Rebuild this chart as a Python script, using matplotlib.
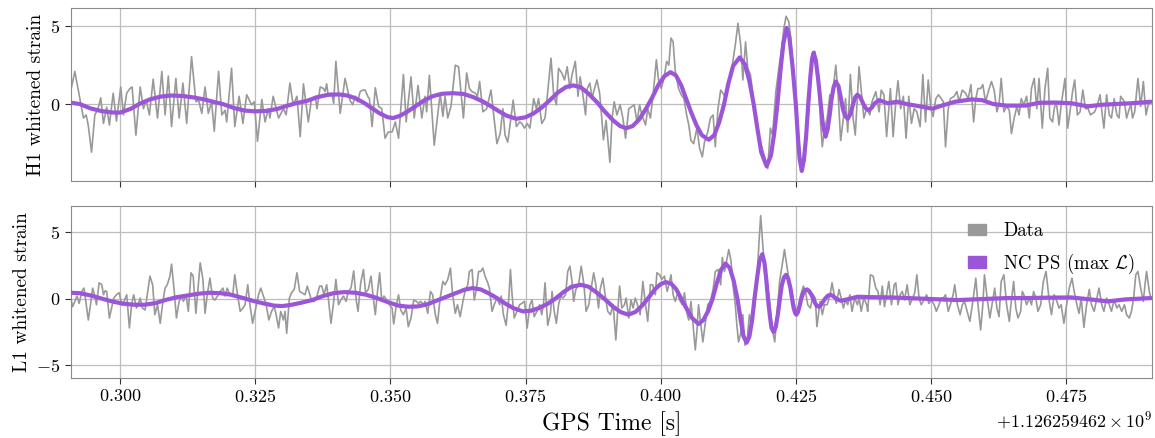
import numpy as np
import matplotlib.pyplot as plt
from matplotlib.patches import Patch
from matplotlib.ticker import MultipleLocator

plt.rcParams.update({
    'font.family': 'serif',
    'font.serif': ['cmr10'],
    'mathtext.fontset': 'cm',
    'axes.formatter.use_mathtext': True,
})

# GPS reference; every *_ms list below counts milliseconds after gps_start + t_ref
gps_start = 1126259462
t_ref = 0.290

# ---- H1 whitened data ----
h1_data_ms = [
    0.7, 1.6, 2.5, 3.2, 3.7, 4.1, 4.7, 5.3, 5.9, 6.4,
    6.9, 7.5, 8.0, 8.7, 9.3, 10.1, 10.6, 11.2, 11.8, 12.2,
    12.9, 13.7, 14.3, 14.8, 15.4, 16.1, 16.9, 17.7, 18.3, 18.9,
    19.5, 20.3, 20.9, 21.6, 22.3, 23.2, 24.0, 24.5, 25.1, 25.7,
    26.3, 26.9, 27.4, 28.2, 28.8, 29.4, 29.7, 30.6, 31.2, 32.0,
    32.7, 33.4, 34.3, 34.8, 35.4, 36.2, 36.8, 37.4, 37.7, 38.3,
    39.3, 40.2, 40.7, 41.4, 42.0, 42.7, 43.3, 43.9, 44.8, 45.4,
    46.1, 46.4, 47.0, 47.6, 47.9, 48.2, 48.5, 49.1, 49.5, 49.9,
    50.7, 51.6, 52.5, 53.0, 53.5, 53.9, 54.4, 54.9, 55.3, 55.8,
    56.1, 56.6, 57.2, 57.8, 58.4, 59.0, 59.6, 60.3, 60.9, 61.5,
    62.4, 62.9, 63.8, 64.4, 65.1, 65.8, 66.4, 66.7, 67.2,
    68.1, 69.2, 69.7, 70.1, 70.6, 71.2, 72.0, 72.6, 73.5, 74.1,
    74.6, 75.1, 75.7, 76.1, 76.5, 77.1, 77.8, 78.6, 79.1, 79.7,
    80.3, 80.8, 81.2, 81.7, 82.2, 82.7, 83.3, 83.9, 84.3, 84.8,
    85.3, 85.8, 86.5, 87.0, 87.4, 88.0, 88.6, 89.1, 89.7, 90.2,
    90.7, 91.1, 91.7, 92.2, 92.7, 93.2, 93.6, 94.2, 94.7, 95.1,
    95.6, 96.1, 96.4, 96.9, 97.3, 97.6, 98.2, 98.7, 99.1, 99.4,
    99.9, 100.6, 101.0, 101.4, 101.9, 102.5, 103.0, 103.5, 104.1, 104.7,
    105.1, 105.6, 106.1, 106.5, 107.2, 107.6, 108.1, 108.6, 109.2, 109.6,
    110.1, 110.6, 111.1, 111.5, 111.9, 112.3, 112.7, 113.3, 113.8, 114.3,
    114.8, 115.2, 115.6, 116.1, 116.7, 117.2, 117.7, 118.1, 118.7, 119.2,
    119.7, 120.1, 120.6, 121.1, 121.7, 122.0, 122.6, 123.2, 123.8, 124.3,
    124.8, 125.2, 125.7, 126.1, 126.6, 127.0, 127.5, 128.2, 128.8, 129.3,
    129.8, 130.3, 130.7, 131.3, 131.9, 132.3, 132.8, 133.2, 133.7,
    134.0, 134.6, 135.3, 136.1, 136.8, 137.4, 138.0, 138.5, 139.1, 139.6,
    139.9, 140.3, 140.8, 141.3, 141.7, 142.4, 142.8, 143.3, 143.8, 144.2,
    144.6, 145.1, 145.6, 146.0, 146.7, 147.2, 147.6, 148.1, 148.7, 149.1,
    149.8, 150.4, 150.8, 151.3, 151.8, 152.2, 152.5, 153.0, 153.5, 153.9,
    154.4, 154.9, 155.4, 155.9, 156.4, 156.9, 157.4, 158.0, 158.5, 159.0,
    159.5, 160.0, 160.4, 160.9, 161.4, 161.9, 162.3, 162.7, 163.2, 163.6,
    164.3, 164.8, 165.2, 165.8, 166.4, 166.9, 167.4, 167.9, 168.3, 168.7,
    169.2, 169.6, 170.1, 170.7, 171.2, 171.7, 172.2, 172.6, 173.0, 173.5,
    174.0, 174.5, 174.9, 175.4, 175.9, 176.3, 176.7, 177.2, 177.7, 178.2,
    178.6, 179.1, 179.6, 180.0, 180.6, 181.1, 181.6, 182.0, 182.5, 182.8,
    183.2, 183.7, 184.1, 184.8, 185.3, 185.8, 186.2, 186.6, 187.1, 187.6,
    188.1, 188.6, 189.1, 189.5, 189.9, 190.3, 190.8, 191.3, 191.7, 192.0,
    192.5, 193.0, 193.4, 193.9, 194.4, 194.8, 195.1, 195.8, 196.2, 196.7,
    197.0, 197.3, 197.7, 198.3, 198.8, 199.3, 199.8, 200.2, 200.7,
]
h1_data = [
    0.6, 2.1, 0.4, -0.9, -0.7, -1.4, -3.1, -0.7, -0.3, 0.4,
    -1.25, -0.2, -1.35, 0.7, -1.1, 1.1, -0.7, 0.7, 1.0, 1.1,
    -2.0, 1.1, -0.3, 0.25, -0.7, 1.6, -0.9, 2.1, -0.7, 1.8,
    -1.45, 1.65, -0.9, 1.35, -1.25, 3.05, 0.15, 0.25, -0.6, 1.1,
    -0.6, 0.15, -1.75, 2.1, -0.7, -0.4, -1.15, 2.3, -1.45, 0.5,
    -1.25, 0.6, -0.05, 0.15, -2.4, 0.3, -1.15, -0.3, -0.9, 0.5,
    -0.9, -0.3, -0.7, 1.35, -0.05, 0.5, -2.1, 1.3, -1.15, 0.35,
    0.5, -0.3, 1.1, 1.0, 0.8, 1.3, 0.5, 0.7, 0.05, 2.75,
    -0.6, 1.65, 0.25, -0.05, 0.5, 0.15, 0.8, 0.9, 0.9, 0.5,
    0.35, -1.45, 1.05, -0.15, -0.3, -2.2, -1.8, -1.8, -1.15, -2.2,
    1.9, -1.15, 1.75, -0.9, 1.2, -0.9, 0.5, -0.5, 1.85,
    -2.65, 0.7, -0.8, 0.5, -0.9, -0.15, 2.5, 2.4, -0.9, 2.0,
    1.0, 0.8, 0.7, 0.5, 1.45, -0.5, -0.3, 0.9, -0.7, -2.55,
    -1.9, -0.3, -2.0, -2.45, -1.15, 0.25, -1.45, -1.15, -1.25, -1.55,
    -1.25, -1.55, 0.35, -0.3, 0.35, -1.25, -0.9, 0.8, 2.95, 0.6,
    -0.05, 2.3, 2.0, 1.55, 2.4, 1.0, 1.9, 2.75, 0.5, 1.75,
    0.6, -0.7, 1.0, 1.35, 0.35, 0.8, 1.55, 0.7, -0.9, -2.3,
    -1.05, -3.75, -0.9, 0.15, -0.7, -0.05, -0.9, -2.2, -0.3, -0.15,
    -0.05, -1.15, -0.05, -0.7, -1.35, -0.3, -0.9, 0.6, 2.85, 1.55,
    1.0, 1.65, 2.75, 2.5, 4.25, 4.0, 2.1, 1.0, 0.6, 0.35,
    -0.7, -1.35, -2.35, -2.55, -1.55, -2.85, -3.4, -2.45, -1.8, -0.9,
    -0.7, -2.75, -0.3, 0.9, 0.6, 0.35, 1.2, 2.4, 3.8, 5.2,
    3.8, 1.55, 4.0, 2.3, 1.9, 0.8, -0.7, -2.2, -2.85, -3.5,
    -4.15, -1.55, -2.0, 0.8, 2.4, 3.4, 4.9, 5.65, 5.3,
    4.45, 1.9, -2.0, -4.4, -2.85, -0.3, 2.75, 3.4, 1.9, -1.35,
    -2.75, -1.55, -0.9, 0.6, 0.35, 2.5, 0.8, -2.35, -0.9, 0.35,
    -1.8, 1.9, -0.9, -2.0, 2.4, 0.5, -0.9, -0.3, -0.7, 0.15,
    0.8, -0.5, 0.9, 0.6, -2.1, -0.3, 1.0, -2.1, 0.15, 1.5,
    -0.3, 0.5, -2.2, 0.5, -1.25, -0.3, -0.5, -1.45, 1.9, -1.15,
    1.55, -0.3, -0.8, 0.35, 0.6, 0.35, 0.15, -2.75, -0.3, 0.35,
    0.5, 0.8, 0.15, 0.9, 0.7, 0.35, 1.25, -1.15, 0.35, 1.0,
    1.0, 1.25, 0.15, 0.9, 1.45, 0.9, -0.5, -0.05, 1.65, -0.5,
    -0.15, -0.4, -1.9, -0.9, -0.15, -0.7, 0.35, -0.05, 0.5, -0.9,
    1.0, 1.65, -0.3, 1.65, -1.55, 1.0, 2.3, -0.9, -1.15, -0.3,
    0.15, -1.35, -0.05, 1.65, -1.55, -0.3, 0.8, 1.55, -0.7, -0.5,
    0.9, -0.3, -0.3, -0.7, -0.6, -0.5, -0.05, 0.6, -0.7, -1.55,
    0.6, -0.7, -0.9, 0.35, -0.7, -0.9, 0.5, 0.15, -0.9, -0.3,
    -0.05, -0.9, -0.5, 1.65, -0.15, 1.45, -0.7, -0.05, 0.15,
]

# ---- H1 max-likelihood waveform ----
h1_model_ms = [
    0.7, 2.5, 4.5, 6.5, 8.5, 10.0, 12.0, 13.5, 15.5, 17.5,
    19.5, 21.5, 23.5, 25.5, 27.5, 29.0, 31.0, 33.0, 35.0, 37.0,
    39.0, 40.8, 42.5, 44.5, 46.5, 48.5, 50.5, 52.0, 53.5, 55.0,
    56.5, 58.0, 59.5, 60.5, 61.8, 63.3, 64.8, 66.3, 67.8, 69.5,
    71.5, 73.5, 75.3, 77.0, 78.5, 80.0, 81.5, 83.3, 85.0, 86.5,
    88.0, 89.5, 91.0, 92.5, 93.8, 95.2, 96.7, 98.2, 99.7, 101.2,
    102.5, 103.6, 104.8, 106.0, 107.2, 108.4, 109.6, 110.7, 111.8, 112.8,
    113.8, 114.7, 115.6, 116.6, 117.6, 118.9, 119.9, 120.8, 121.7, 122.5,
    123.4, 124.6, 125.6, 126.4, 127.2, 127.9, 128.6, 129.6, 130.4, 131.0,
    131.6, 132.2, 132.7, 133.3, 133.8, 134.4, 135.0, 135.4, 135.7, 136.1,
    136.5, 136.9, 137.3, 137.7, 138.0, 138.3, 138.7, 139.1, 139.6, 140.0,
    140.5, 140.9, 141.3, 141.6, 142.0, 142.4, 142.9, 143.3, 143.7, 144.1,
    144.6, 145.1, 145.6, 146.0, 146.4, 146.9, 147.5, 148.0, 148.5, 149.0,
    149.6, 150.4, 151.2, 152.0, 153.8, 155.5, 158.0, 160.3, 162.0, 164.5,
    167.5, 169.5, 171.5, 174.0, 177.5, 180.0, 183.0, 186.0, 189.0, 191.5,
    194.0, 197.0, 200.7,
]
h1_model = [
    0.1, 0.0, -0.28, -0.45, -0.54, -0.55, -0.3, 0.0, 0.3, 0.48,
    0.55, 0.52, 0.43, 0.3, 0.12, 0.0, -0.25, -0.42, -0.47, -0.44,
    -0.32, -0.12, 0.05, 0.2, 0.45, 0.6, 0.62, 0.55, 0.38, 0.1,
    -0.25, -0.6, -0.85, -0.9, -0.75, -0.45, -0.1, 0.25, 0.5, 0.66,
    0.7, 0.65, 0.45, 0.18, -0.12, -0.45, -0.75, -0.95, -0.85, -0.6,
    -0.22, 0.25, 0.75, 1.1, 1.2, 1.08, 0.65, 0.12, -0.5, -1.05,
    -1.42, -1.55, -1.42, -1.0, -0.35, 0.4, 1.25, 1.8, 2.05, 1.85,
    1.2, 0.35, -0.5, -1.35, -2.0, -2.3, -2.0, -1.2, -0.05, 1.3,
    2.45, 3.0, 2.55, 1.5, 0.0, -1.6, -3.1, -4.0, -3.3, -1.9,
    0.0, 2.3, 3.9, 4.9, 4.3, 2.4, 0.0, -2.2, -3.5, -4.3,
    -3.6, -2.1, 0.0, 1.8, 2.9, 3.3, 2.8, 1.7, 0.0, -1.3,
    -2.1, -1.6, -0.6, 0.3, 1.1, 1.45, 1.15, 0.45, -0.3, -0.75,
    -0.95, -0.65, 0.0, 0.45, 0.6, 0.45, 0.0, -0.3, -0.4, -0.25,
    0.05, 0.25, 0.15, 0.05, 0.15, 0.0, -0.15, -0.3, -0.1, 0.15,
    0.3, 0.25, 0.0, -0.1, -0.1, 0.08, 0.1, 0.05, -0.15, -0.05,
    0.0, 0.05, 0.15,
]

# ---- L1 whitened data ----
l1_data_ms = [
    0.7, 1.2, 1.6, 2.0, 2.4, 2.9, 3.3, 3.8, 4.1, 4.5,
    4.9, 5.3, 5.6, 6.1, 6.6, 6.9, 7.2, 7.5, 8.0, 8.4,
    8.8, 9.3, 9.8, 10.3, 10.7, 11.2, 11.7, 12.1, 12.5, 13.0,
    13.3, 13.7, 14.1, 14.6, 15.0, 15.5, 16.0, 16.4, 16.9, 17.4,
    17.9, 18.3, 18.7, 19.2, 19.5, 20.0, 20.4, 20.9, 21.4, 21.7,
    22.2, 22.6, 23.1, 23.5, 24.0, 24.8, 25.3, 25.7, 26.1, 26.6,
    27.1, 27.5, 28.0, 28.5, 29.0, 29.4, 29.8, 30.3, 30.8, 31.2,
    31.7, 32.2, 32.7, 33.1, 33.6, 34.0, 34.5, 35.0, 35.6, 36.0,
    36.5, 37.0, 37.5, 38.0, 38.5, 38.8, 39.3, 39.7, 40.2, 40.5,
    40.8, 41.3, 41.7, 42.2, 42.7, 43.2, 43.6, 44.2, 44.6, 45.1,
    45.4, 45.9, 46.4, 46.9, 47.3, 47.7, 48.2, 48.5, 49.0, 49.5,
    49.9, 50.4, 50.8, 51.3, 51.8, 52.2, 52.7, 53.2, 53.7, 54.0,
    54.5, 55.0, 55.4, 55.9, 56.4, 56.9, 57.2, 57.6, 58.0, 58.4,
    58.8, 59.3, 59.8, 60.3, 60.6, 61.1, 61.5, 61.9, 62.4, 62.9,
    63.3, 63.8, 64.3, 64.8, 65.2, 65.6, 66.1, 66.4, 66.9, 67.4,
    67.8, 68.3, 68.7, 69.2, 69.7, 70.1, 70.6, 71.1, 71.5, 72.0,
    72.4, 72.9, 73.4, 73.8, 74.3, 74.6, 75.1, 75.5, 75.9, 76.3,
    76.7, 77.1, 77.5, 78.0, 78.3, 78.8, 79.2, 79.7, 80.2, 80.5,
    80.9, 81.4, 81.9, 82.2, 82.5, 82.9, 83.4, 83.9, 84.3, 84.8,
    85.3, 85.8, 86.2, 86.6, 87.1, 87.6, 88.0, 88.3, 88.6, 89.1,
    89.6, 89.9, 90.3, 90.7, 91.1, 91.5, 91.9, 92.4, 92.8, 93.2,
    93.6, 93.9, 94.3, 94.8, 95.3, 95.8, 96.2, 96.7, 97.1, 97.6,
    98.0, 98.5, 98.8, 99.3, 99.8, 100.2, 100.7, 101.2, 101.7, 102.0,
    102.4, 102.8, 103.3, 103.6, 104.1, 104.5, 104.9, 105.3, 105.7, 106.2,
    106.7, 107.2, 107.6, 108.1, 108.5, 109.0, 109.3, 109.8, 110.2, 110.7,
    111.2, 111.5, 111.9, 112.3, 112.7, 113.2, 113.5, 114.0, 114.4, 114.9,
    115.2, 115.6, 116.0, 116.4, 116.7, 117.0, 117.5, 117.8, 118.3, 118.7,
    119.2, 119.7, 120.1, 120.6, 121.1, 121.4, 121.8, 122.2, 122.6, 123.0,
    123.4, 123.8, 124.1, 124.4, 124.8, 125.2, 125.6, 126.0, 126.4, 126.8,
    127.2, 127.7, 128.2, 128.5, 128.8, 129.2, 129.7, 130.2, 130.6, 131.1,
    131.5, 132.0, 132.5, 132.9, 133.4, 133.8,
    134.0, 134.6, 135.1, 135.6, 135.9, 136.4, 136.8, 137.2, 137.7, 138.2,
    138.6, 138.9, 139.5, 139.9, 140.3, 140.8, 141.3, 141.7, 142.2, 142.5,
    143.0, 143.3, 143.8, 144.2, 144.6, 145.0, 145.4, 145.9, 146.4, 146.7,
    147.1, 147.6, 148.1, 148.3, 148.8, 149.3, 149.8, 150.2, 150.6, 151.0,
    151.4, 151.9, 152.2, 152.7, 153.2, 153.5, 153.9, 154.3, 154.7, 155.1,
    155.6, 156.1, 156.6, 157.0, 157.4, 157.8, 158.2, 158.7, 159.2, 159.6,
    160.1, 160.6, 161.0, 161.5, 161.9, 162.3, 162.7, 163.2, 163.6, 164.1,
    164.4, 164.9, 165.4, 165.8, 166.2, 166.7, 167.2, 167.7, 168.0, 168.3,
    168.7, 169.2, 169.6, 169.9, 170.4, 170.9, 171.4, 171.8, 172.2, 172.6,
    173.0, 173.5, 174.0, 174.5, 174.8, 175.3, 175.7, 176.1, 176.6, 176.9,
    177.2, 177.7, 178.2, 178.6, 179.0, 179.4, 179.8, 180.3, 180.8, 181.3,
    181.9, 182.3, 182.8, 183.3, 183.7, 184.1, 184.6, 185.1, 185.6, 186.1,
    186.5, 187.0, 187.4, 187.8, 188.3, 188.8, 189.3, 189.7, 190.2, 190.7,
    191.1, 191.6, 192.0, 192.5, 193.0, 193.4, 193.9, 194.4, 194.8, 195.3,
    195.8, 196.2, 196.7, 197.1, 197.5, 197.9, 198.3, 198.8, 199.3, 199.6,
    199.9, 200.4, 200.7,
]
l1_data = [
    0.3, -0.6, -0.2, 0.2, -0.35, 0.55, 0.8, -0.7, -1.6, -0.45,
    0.8, 0.2, -0.45, 1.2, 1.05, 0.3, 0.6, 0.55, -1.45, -0.7,
    0.05, 0.3, 0.45, -0.45, -0.2, 0.3, -2.2, -0.45, 0.3, -0.7,
    -0.45, 0.05, -0.7, -0.85, 0.3, 1.7, 1.05, -1.2, -0.45, -1.85,
    -0.2, 0.8, 1.05, 1.7, 2.6, 0.55, -1.45, -0.2, 0.2, -0.2,
    0.3, -0.95, 1.95, 1.7, -1.1, 2.7, 1.45, -1.1, 0.3, 1.55,
    0.05, -0.1, 0.2, 0.55, 0.8, 0.2, 0.8, 0.3, 0.2, 1.8,
    0.3, -0.95, -0.7, -0.45, 1.05, -0.45, -1.85, -0.85, 0.3, 0.8,
    0.2, -0.45, -1.6, -0.95, -0.6, -1.1, -2.2, -0.95, -1.6, -0.95,
    -2.6, 0.05, 0.45, 0.7, 1.95, 0.55, 0.45, 0.3, 0.95, 0.3,
    -0.2, -0.2, 0.2, 0.95, 0.95, 0.3, 1.05, 0.05, -1.85, -0.2,
    1.45, -0.45, -0.1, 0.2, -0.2, 0.55, 0.8, 2.1, -0.2, -0.95,
    1.2, 2.2, 0.45, 0.7, 1.7, -0.2, -1.2, 0.55, 1.95, -0.2,
    0.2, -0.1, -0.45, -0.7, -1.9, -0.45, 0.3, -0.85, -1.2, -0.7,
    -2.1, -1.45, -0.1, -0.2, -0.35, -0.2, -0.45, -0.2, -1.1, 0.55,
    0.3, -1.2, -1.85, 0.05, 1.3, 1.05, 1.45, 2.3, 0.3, -1.1,
    -0.45, -1.35, -0.2, 0.55, 1.05, 2.05, 2.2, -0.1, 0.7, 2.05,
    2.05, 2.3, 1.7, 1.2, 0.8, -0.95, -0.45, 0.05, -0.45, 0.2,
    -1.2, -2.0, 0.05, 2.2, 0.3, -1.45, -0.95, -0.45, -0.35, -0.2,
    -2.2, -0.45, -0.1, -1.35, -0.95, -0.45, -1.2, -0.45, 1.2, -2.0,
    -1.1, 0.55, -0.95, -1.85, -0.45, 0.2, 0.05, 0.3, 2.05, 2.45,
    1.3, -0.2, 0.7, 1.05, 2.45, 1.05, -0.95, -0.45, 0.7, 1.95,
    1.05, -0.7, 0.7, 1.55, 0.05, -0.95, -1.2, -0.45, -3.1, -1.2,
    0.95, -0.7, -0.45, 0.05, -1.45, -0.1, -0.7, 0.05, -0.45, -1.2,
    1.3, -0.45, -1.7, 1.05, 1.05, 0.3, 1.95, 1.8, 1.45, 1.7,
    0.55, 1.05, 1.8, 0.3, -0.2, 0.55, -0.1, -0.45, 0.45, -1.2,
    -1.6, -0.2, -2.0, -3.85, -2.45, -0.45, -2.2, -3.25, -1.7, -0.45,
    -0.2, 0.7, 2.05, 2.2, 1.05, 3.1, 2.05, 2.85, 3.7, 2.85,
    0.95, -0.45, -2.0, -3.25, -2.6, -1.2, -3.5, -3.1, -1.2, -2.0,
    -0.95, 0.55, 4.35, 6.25, 4.6, 2.3, 1.3, -0.45, -2.2, -3.25,
    -1.2, 1.3, 2.6, 3.7, 2.3, 1.3,
    1.05, -0.2, -1.2, -0.45, 0.3, 0.95, 0.55, -0.45, -0.7, 0.3,
    0.05, -2.1, -0.2, -1.2, -0.45, -0.45, 0.2, 1.2, 0.05, -0.35,
    0.7, 0.2, -0.7, -0.1, -0.45, 0.3, -0.95, 0.05, -0.45, 0.05,
    -0.95, 0.05, -0.45, -0.95, 1.8, 1.7, 0.8, 0.55, -0.45, 0.95,
    -0.6, 0.55, 1.3, -0.45, 1.05, 1.2, -0.45, 0.3, 0.55, -0.1,
    1.05, -0.45, 0.05, 0.45, 1.8, 0.05, -0.45, -0.1, 0.3, -0.35,
    -0.1, -0.45, -0.95, -0.45, 0.05, 0.05, 0.3, -0.95, -0.45, 0.3,
    1.05, -0.45, -1.2, -0.45, -0.2, -0.95, -1.7, -0.35, 0.55, 1.55,
    -0.45, -2.35, -0.45, 1.8, 0.05, -1.45, -0.2, 0.8, -0.7, -1.35,
    1.3, 1.8, -0.45, -1.7, -0.45, 1.3, -0.7, -1.45, -0.95, 0.55,
    0.3, -0.45, 0.05, -0.45, 0.55, 0.05, -0.95, -0.45, 1.3, 2.05,
    -0.2, -1.2, 0.3, -0.2, -0.7, -0.45, -1.85, -0.45, 0.8, 1.55,
    0.55, -0.45, -1.1, 0.05, -2.15, -0.45, 0.7, -0.45, -0.95, 0.05,
    0.8, -0.45, -0.95, 0.05, -0.45, -0.95, -0.1, -0.7, -0.45, -0.95,
    -0.45, -1.2, -1.45, -0.95, 0.05, 1.8, 2.05, 0.8, -0.2, 1.05,
    2.05, 0.55, 0.05,
]

# ---- L1 max-likelihood waveform ----
l1_model_ms = [
    0.7, 2.5, 4.5, 6.5, 8.5, 10.5, 12.5, 14.5, 16.5, 18.5,
    20.5, 22.5, 24.5, 26.5, 28.5, 30.5, 32.5, 34.5, 36.5, 38.5,
    40.0, 41.5, 43.5, 45.5, 47.5, 49.5, 51.5, 53.5, 55.5, 57.5,
    59.5, 61.5, 63.3, 65.0, 66.8, 68.5, 70.2, 72.0, 73.7, 75.2,
    76.7, 78.2, 79.7, 81.2, 82.7, 84.5, 86.0, 87.5, 89.0, 90.5,
    92.0, 93.5, 95.2, 96.7, 98.2, 99.7, 101.2, 102.6, 104.0, 105.3,
    106.5, 107.7, 108.9, 110.0, 110.9, 111.9, 112.9, 113.8, 114.8, 115.8,
    117.0, 117.9, 118.8, 119.6, 120.4, 121.2, 122.0, 122.8, 123.5, 124.2,
    124.8, 125.3, 125.9, 126.4, 126.9, 127.35, 127.9, 128.3, 128.8, 129.2,
    129.5, 129.85, 130.2, 130.5, 130.9, 131.3, 131.7, 132.05, 132.4, 132.8,
    133.2, 133.6, 134.0, 134.3, 134.6, 134.9, 135.1, 135.4, 135.7, 136.0,
    136.4, 136.7, 137.1, 137.5, 137.9, 138.2, 138.6, 138.9, 139.3, 139.7,
    140.0, 140.4, 140.9, 141.4, 141.9, 142.5, 143.3, 144.5, 146.4, 149.0,
    152.5, 155.5, 158.7, 162.0, 164.9, 168.0, 171.1, 174.0, 177.2, 181.5,
    185.9, 189.5, 192.7, 196.0, 200.7,
]
l1_model = [
    0.45, 0.42, 0.25, 0.02, -0.2, -0.37, -0.45, -0.45, -0.33, -0.08,
    0.12, 0.25, 0.38, 0.45, 0.42, 0.3, 0.08, -0.15, -0.35, -0.52,
    -0.55, -0.47, -0.3, -0.1, 0.2, 0.42, 0.5, 0.45, 0.3, 0.05,
    -0.25, -0.52, -0.6, -0.58, -0.42, -0.15, 0.12, 0.4, 0.68, 0.8,
    0.7, 0.4, 0.05, -0.35, -0.7, -0.95, -0.9, -0.7, -0.4, 0.0,
    0.5, 0.9, 1.05, 0.9, 0.45, -0.05, -0.6, -1.0, -1.2, -1.0,
    -0.55, 0.05, 0.7, 1.1, 1.25, 1.15, 0.7, 0.0, -0.75, -1.45,
    -1.9, -1.6, -0.9, 0.0, 1.2, 2.2, 2.65, 2.3, 1.35, 0.0,
    -1.6, -2.8, -3.3, -2.85, -1.65, 0.0, 1.75, 2.9, 3.35, 2.7,
    1.6, 0.0, -1.3, -2.2, -2.5, -2.1, -1.1, 0.0, 1.0, 1.6,
    1.8, 1.5, 0.8, 0.0, -0.7, -1.1, -1.2, -1.0, -0.55, 0.0,
    0.45, 0.65, 0.7, 0.55, 0.3, 0.0, -0.35, -0.55, -0.6, -0.45,
    -0.25, 0.0, 0.22, 0.3, 0.2, 0.0, -0.15, -0.05, 0.15, 0.12,
    0.1, 0.05, 0.0, -0.05, -0.1, -0.05, 0.0, 0.05, 0.05, 0.08,
    0.1, -0.05, -0.2, -0.05, 0.05,
]

data_color = '#999999'
model_color = '#9b55d8'


def to_gps(ms):
    return gps_start + t_ref + np.asarray(ms) / 1000.0


fig, axes = plt.subplots(2, 1, figsize=(11.55, 4.38), dpi=100, sharex=True)
fig.subplots_adjust(left=0.0615, right=0.9974, top=0.981, bottom=0.137, hspace=0.145)

panels = [
    (axes[0], h1_data_ms, h1_data, h1_model_ms, h1_model, 'H1 whitened strain', (-4.93, 6.16)),
    (axes[1], l1_data_ms, l1_data, l1_model_ms, l1_model, 'L1 whitened strain', (-5.96, 7.0)),
]

for ax, d_ms, d, m_ms, m, label, ylim in panels:
    ax.plot(to_gps(d_ms), d, color=data_color, lw=1.2, zorder=2)
    ax.plot(to_gps(m_ms), m, color=model_color, lw=3.0, zorder=3,
            solid_joinstyle='round', solid_capstyle='round')
    ax.set_ylim(*ylim)
    ax.set_ylabel(label, fontsize=14)
    ax.yaxis.set_major_locator(MultipleLocator(5))
    ax.grid(True, color='#bdbdbd', lw=0.9)
    ax.set_axisbelow(True)
    for sp in ax.spines.values():
        sp.set_color('#8a8a8a')
    ax.tick_params(labelsize=13, length=4, color='#333333')

axes[1].set_xlim(to_gps(0.9), to_gps(200.9))
axes[1].xaxis.set_major_locator(MultipleLocator(0.025))
axes[1].xaxis.get_offset_text().set_fontsize(13)
axes[1].set_xlabel('GPS Time [s]', fontsize=17)

handles = [Patch(color=data_color, label='Data'),
           Patch(color=model_color, label=r'NC PS (max $\mathcal{L}$)')]
axes[1].legend(handles=handles, loc='upper right', frameon=False, fontsize=13.5,
               handlelength=1.0, handleheight=0.55, handletextpad=0.9, labelspacing=0.6)

fig.savefig('out.png', dpi=100)
